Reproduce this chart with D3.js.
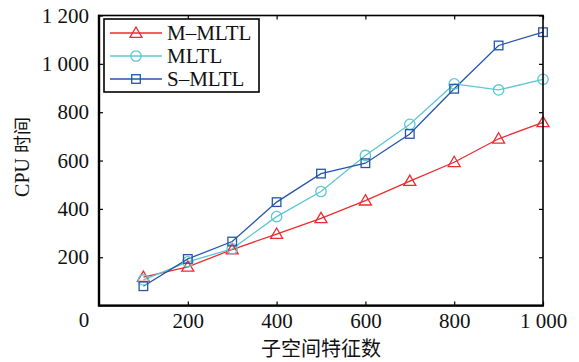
<!DOCTYPE html>
<html><head><meta charset="utf-8">
<script src="https://cdn.jsdelivr.net/npm/d3@7"></script>
<style>body{margin:0;background:#fff}svg{display:block}</style>
</head><body>
<script>
const xValues = [100,200,300,400,500,600,700,800,900,1000];
const seriesNames = ["M\u2013MLTL","MLTL","S\u2013MLTL"];
const mmltl = [118,160,232,296,361,434,515,593,690,758];
const mltl  = [106,181,235,368,472,621,750,917,892,936];
const smltl = [80,193,265,428,546,589,710,897,1076,1131];
const xTicks = [200,400,600,800,1000];
const xTickLabels = ["200","400","600","800","1 000"];
const yTicks = [200,400,600,800,1000,1200];
const yTickLabels = ["200","400","600","800","1 000","1 200"];
const originLabel = "0";
const xTitle = "子空间特征数";
const yTitle = "CPU 时间";
const colors = ["#ee2b2e","#5cc6d3","#2556a8"];
const markers = ["triangle","circle","square"];

const W=579,H=362;
const svg=d3.select("body").append("svg").attr("width",W).attr("height",H);
const x=d3.scaleLinear().domain([0,1000]).range([99,543]);
const y=d3.scaleLinear().domain([0,1200]).range([305.6,15.5]);
const serif='"Liberation Serif","Times New Roman",serif';
const cjk='"Noto Sans CJK SC",sans-serif';
const txt="#111";

const data=[mmltl,mltl,smltl];
function marker(g,type,color){
  if(type==="triangle") g.append("path").attr("d","M0,-6L6,4.3L-6,4.3Z");
  else if(type==="circle") g.append("circle").attr("r",5.2);
  else g.append("rect").attr("x",-4.3).attr("y",-4.3).attr("width",8.6).attr("height",8.6);
  g.selectAll("*").attr("fill","none").attr("stroke",color).attr("stroke-width",1.3);
}
const line=d3.line().x((d,i)=>x(xValues[i])).y(d=>y(d));
data.forEach((s,k)=>{
  svg.append("path").datum(s).attr("d",line).attr("fill","none").attr("stroke",colors[k]).attr("stroke-width",1.3);
});
data.forEach((s,k)=>{
  s.forEach((v,i)=>{
    const g=svg.append("g").attr("transform",`translate(${x(xValues[i])},${y(v)})`);
    marker(g,markers[k],colors[k]);
  });
});

const xb=svg.append("g").attr("transform",`translate(0,${y(0)})`)
  .call(d3.axisBottom(x).tickValues(xTicks).tickFormat((d,i)=>xTickLabels[i]).tickSize(-4).tickPadding(7).tickSizeOuter(0));
const xt=svg.append("g").attr("transform",`translate(0,${y(1200)})`)
  .call(d3.axisTop(x).tickValues(xTicks).tickFormat("").tickSize(-4).tickSizeOuter(0));
const yl=svg.append("g").attr("transform",`translate(${x(0)},0)`)
  .call(d3.axisLeft(y).tickValues(yTicks).tickFormat((d,i)=>yTickLabels[i]).tickSize(-4).tickPadding(10).tickSizeOuter(0));
const yr=svg.append("g").attr("transform",`translate(${x(1000)},0)`)
  .call(d3.axisRight(y).tickValues(yTicks).tickFormat("").tickSize(-4).tickSizeOuter(0));
[xb,xt,yl,yr].forEach(a=>{
  a.selectAll(".domain").remove();
  a.selectAll(".tick line").attr("stroke","#000").attr("stroke-width",1.2);
  a.selectAll("text").attr("font-family",serif).attr("font-size",21).attr("fill",txt);
});
svg.append("rect").attr("x",x(0)).attr("y",y(1200)).attr("width",x(1000)-x(0)).attr("height",y(0)-y(1200))
  .attr("fill","none").attr("stroke","#000").attr("stroke-width",1.6);
svg.append("path").attr("d",`M${x(0)},${y(1200)-0.8}V${y(0)}H${x(1000)+0.8}`).attr("fill","none").attr("stroke","#000").attr("stroke-width",2.4);
svg.append("text").attr("x",84).attr("y",327).attr("text-anchor","middle").attr("font-family",serif).attr("font-size",21).attr("fill",txt).text(originLabel);

svg.append("text").attr("x",321).attr("y",356).attr("text-anchor","middle")
  .attr("font-family",cjk).attr("font-size",20).attr("fill",txt).text(xTitle);
svg.append("text").attr("transform","translate(29,157) rotate(-90)").attr("text-anchor","middle")
  .attr("font-family",serif).attr("font-size",20).attr("fill",txt)
  .call(t=>{t.append("tspan").text(yTitle.split(" ")[0]+" ");t.append("tspan").attr("font-family",cjk).attr("font-size",18).text(yTitle.split(" ")[1]);});

const lg=svg.append("g");
lg.append("rect").attr("x",104).attr("y",19).attr("width",155).attr("height",73).attr("fill","#fff").attr("stroke","#000").attr("stroke-width",1.6);
seriesNames.forEach((n,k)=>{
  const yy=33+k*23;
  lg.append("line").attr("x1",110).attr("x2",162).attr("y1",yy).attr("y2",yy).attr("stroke",colors[k]).attr("stroke-width",1.3);
  marker(lg.append("g").attr("transform",`translate(136,${yy})`),markers[k],colors[k]);
  lg.append("text").attr("x",167).attr("y",yy+7).attr("font-family",serif).attr("font-size",21).attr("fill",txt).text(n);
});
</script>
</body></html>
